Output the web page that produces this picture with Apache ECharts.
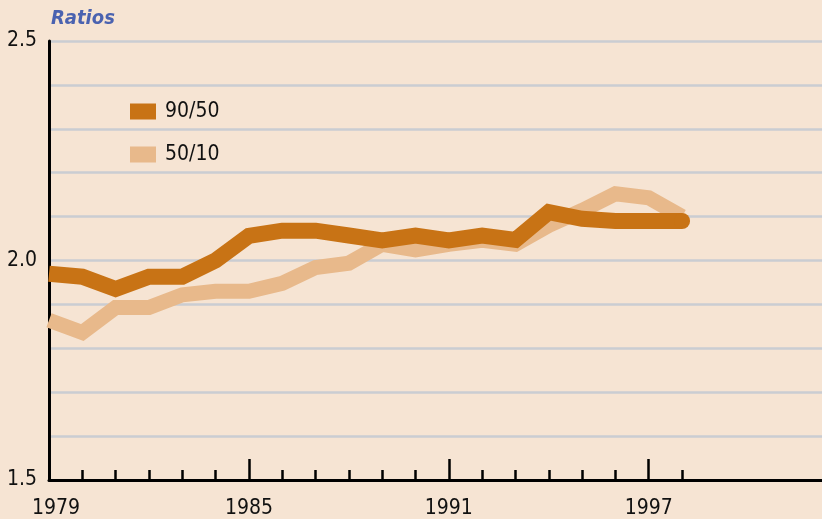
<!DOCTYPE html>
<html>
<head>
<meta charset="utf-8">
<script src="https://cdn.jsdelivr.net/npm/echarts@6/dist/echarts.min.js"></script>
<style>
html,body{margin:0;padding:0;background:#f6e4d3;}
#c{width:822px;height:519px;}
</style>
</head>
<body>
<div id="c"></div>
<script>
const years = [1979,1980,1981,1982,1983,1984,1985,1986,1987,1988,1989,1990,1991,1992,1993,1994,1995,1996,1997,1998];
const r9050 = [1.97,1.963,1.935,1.963,1.963,2.0,2.056,2.068,2.068,2.057,2.046,2.057,2.046,2.057,2.047,2.11,2.095,2.09,2.09,2.09];
const r5010 = [1.864,1.836,1.893,1.893,1.922,1.93,1.93,1.948,1.984,1.994,2.037,2.024,2.037,2.046,2.037,2.08,2.114,2.152,2.143,2.10];
const xLabels = [1979,1985,1991,1997];
const majorTicks = [1985,1991,1997];
const yLabels = [1.5,2.0,2.5];
const seriesNames = ['90/50','50/10'];

const FONT = "'DejaVu Sans Condensed','Liberation Sans Narrow',sans-serif";
const dark = '#c87315';
const light = '#e8b98b';
const lastIdx = years.length - 1;

const chart = echarts.init(document.getElementById('c'));
chart.setOption({
  backgroundColor: '#f6e4d3',
  animation: false,
  title: {
    text: 'Ratios', left: 51, top: 9, padding: 0,
    textStyle: {fontFamily: FONT, fontSize: 20, fontStyle: 'italic', fontWeight: 'bold', color: '#4a62b0'}
  },
  legend: {
    orient: 'vertical', left: 130, top: 101, padding: 0, itemWidth: 26, itemHeight: 16, itemGap: 22,
    icon: 'rect', data: seriesNames,
    textStyle: {fontFamily: FONT, fontSize: 21, color: '#111', padding: [0,0,0,4]}
  },
  grid: {left: 49, right: 0, top: 41, bottom: 36},
  xAxis: [{
    type: 'value', min: 1979, max: 2002.2,
    axisLine: {show: true, lineStyle: {color: '#000', width: 3}},
    axisTick: {show: true, inside: true, length: 10, lineStyle: {color: '#000', width: 2.5}, customValues: years},
    axisLabel: {
      show: true, customValues: xLabels, margin: 18,
      fontFamily: FONT, fontSize: 21, color: '#111',
      formatter: v => v === xLabels[0] ? '{p|' + v + '}' : String(v),
      rich: {p: {fontFamily: FONT, fontSize: 21, color: '#111', padding: [0,0,0,14]}}
    },
    splitLine: {show: false}
  }, {
    type: 'value', min: 1979, max: 2002.2, position: 'bottom',
    axisLine: {show: false},
    axisTick: {show: true, inside: true, length: 21, lineStyle: {color: '#000', width: 2.5}, customValues: majorTicks},
    axisLabel: {show: false},
    splitLine: {show: false}
  }],
  yAxis: {
    type: 'value', min: 1.5, max: 2.5, interval: 0.1,
    axisLine: {show: true, lineStyle: {color: '#000', width: 3}},
    axisTick: {show: false},
    axisLabel: {
      margin: 12, fontFamily: FONT, fontSize: 21, color: '#111',
      formatter: v => {
        const r = Math.round(v * 10) / 10;
        return yLabels.some(l => Math.abs(l - r) < 1e-6) ? r.toFixed(1) : '';
      }
    },
    splitLine: {show: true, lineStyle: {color: '#cacdd2', width: 2.5}}
  },
  series: [{
    name: seriesNames[1], type: 'line', symbol: 'none', z: 2,
    color: light,
    data: years.map((y, i) => [y, r5010[i]]),
    lineStyle: {color: light, width: 15, cap: 'butt', join: 'miter'}
  }, {
    name: seriesNames[0], type: 'line', z: 3,
    symbol: 'circle', showSymbol: true, showAllSymbol: true,
    symbolSize: (v, p) => p.dataIndex === lastIdx ? 16 : 0,
    itemStyle: {color: dark, borderWidth: 0},
    color: dark,
    data: years.map((y, i) => [y, r9050[i]]),
    lineStyle: {color: dark, width: 16, cap: 'butt', join: 'miter'}
  }]
});
</script>
</body>
</html>
